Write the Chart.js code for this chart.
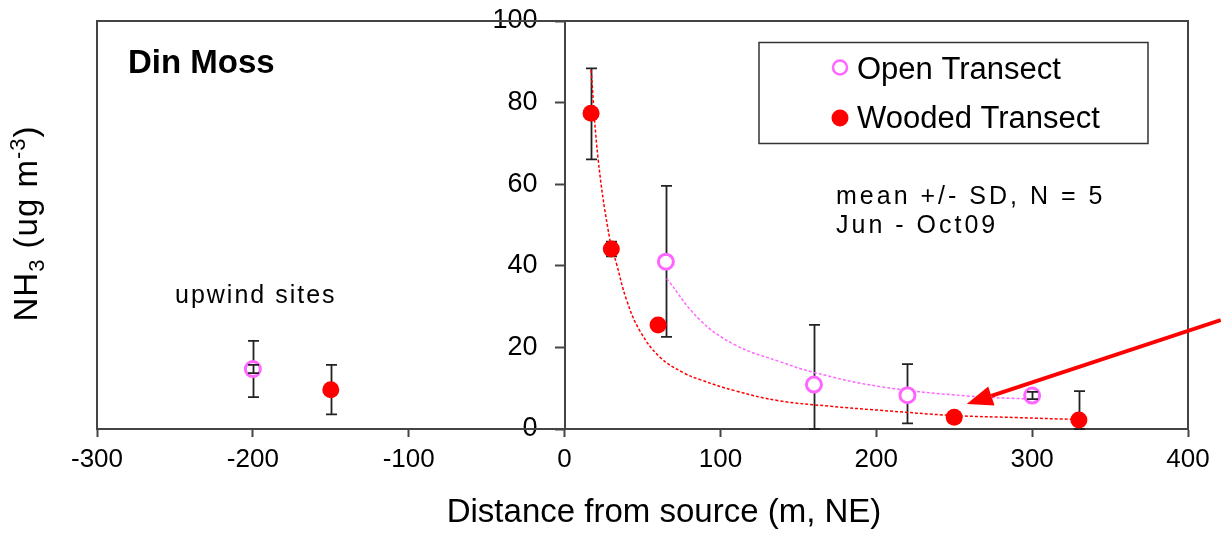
<!DOCTYPE html>
<html><head><meta charset="utf-8">
<script src="https://cdn.jsdelivr.net/npm/chart.js@4.4.1/dist/chart.umd.min.js"></script>
<style>html,body{margin:0;padding:0;background:#fff}#wrap{width:1221px;height:534px;position:relative}</style>
</head><body><div id="wrap"><canvas id="c"></canvas></div>
<script>
// ---- data ----
const xTicks = [-300, -200, -100, 0, 100, 200, 300, 400];
const yTicks = [0, 20, 40, 60, 80, 100];

const openLabel = 'Open Transect';
const openX  = [-200, 65, 160, 220, 300];
const openY  = [14.7, 41.0, 10.9, 8.3, 8.2];
const openLo = [7.8, 22.6, 0, 1.4, null];
const openHi = [21.6, 59.6, 25.5, 15.9, null];
const openInnerLo = [13.7, null, null, null, 7.3];
const openInnerHi = [15.7, null, null, null, 9.1];

const woodLabel = 'Wooded Transect';
const woodX  = [-150, 17, 30, 60, 250, 330];
const woodY  = [9.6, 77.4, 44.1, 25.5, 2.9, 2.2];
const woodLo = [3.6, 66.1, 42.3, null, null, 0];
const woodHi = [15.7, 88.4, 45.9, null, null, 9.3];

const woodFitX = [17, 21.6, 29.1, 33.4, 39.8, 48.4, 61.2, 76.2, 86.9, 110, 138, 170, 202, 250, 290, 331];
const woodFitY = [88, 65.9, 46.3, 40.4, 31.6, 24.0, 17.6, 13.8, 12.1, 9.3, 6.9, 5.6, 4.6, 3.3, 2.8, 2.3];
const openFitX = [65.5, 86.9, 110, 138.2, 159.6, 202.3, 258, 300.7];
const openFitY = [36.9, 26.7, 20.5, 16.5, 13.9, 10.4, 8.1, 7.3];

const arrowFrom = [421, 26.7];
const arrowTo   = [258, 6.1];

const titleText = 'Din Moss';
const upwindText = 'upwind sites';
const noteLines = ['mean +/- SD, N = 5', 'Jun - Oct09'];
const xTitle = 'Distance from source (m, NE)';

// ---- styles ----
const FONT = '"Liberation Sans", Arial, sans-serif';
const RED = '#ff0000';
const PINK = '#ff66ff';
const AXIS = '#444444';
const Y_LABEL_GAP = 27;

// y axis drawn at x = 0 with labels set off to the left of its ticks
class OffsetLinear extends Chart.LinearScale {
  _computeLabelItems(area) {
    const items = super._computeLabelItems(area);
    items.forEach(it => { it.options.translation[0] -= Y_LABEL_GAP; });
    return items;
  }
}
OffsetLinear.id = 'offsetLinear';
OffsetLinear.defaults = Chart.LinearScale.defaults;
Chart.register(OffsetLinear);

const pts = (xs, ys) => xs.map((x, i) => ({x, y: ys[i]}));

function drawText(ctx, s, x, y, size, opts = {}) {
  ctx.save();
  ctx.font = (opts.bold ? 'bold ' : '') + size + 'px ' + FONT;
  ctx.fillStyle = '#000';
  ctx.textAlign = opts.align || 'left';
  ctx.textBaseline = 'alphabetic';
  ctx.letterSpacing = (opts.ls || 0) + 'px';
  ctx.fillText(s, x, y);
  ctx.restore();
}

function errBars(chart, xs, lo, hi, ctx) {
  const sx = chart.scales.x, sy = chart.scales.y;
  ctx.save();
  ctx.strokeStyle = '#222';
  ctx.lineWidth = 1.8;
  xs.forEach((x, i) => {
    if (lo[i] == null || hi[i] == null) return;
    const px = Math.round(sx.getPixelForValue(x)) + 0.5;
    const y1 = sy.getPixelForValue(lo[i]), y2 = sy.getPixelForValue(hi[i]);
    ctx.beginPath();
    ctx.moveTo(px, y1); ctx.lineTo(px, y2);
    ctx.moveTo(px - 5.5, y1); ctx.lineTo(px + 5.5, y1);
    ctx.moveTo(px - 5.5, y2); ctx.lineTo(px + 5.5, y2);
    ctx.stroke();
  });
  ctx.restore();
}

const decor = {
  id: 'decor',
  beforeDatasetsDraw(chart) {
    const ctx = chart.ctx, a = chart.chartArea;
    ctx.save();
    ctx.strokeStyle = AXIS; ctx.lineWidth = 2;
    ctx.strokeRect(a.left, a.top, a.right - a.left, a.bottom - a.top);
    ctx.restore();
    errBars(chart, openX, openLo, openHi, ctx);
    errBars(chart, woodX, woodLo, woodHi, ctx);
  },
  afterDatasetsDraw(chart) {
    const ctx = chart.ctx;
    const sx = chart.scales.x, sy = chart.scales.y;
    errBars(chart, openX, openInnerLo, openInnerHi, ctx);

    // arrow
    const x1 = sx.getPixelForValue(arrowFrom[0]), y1 = sy.getPixelForValue(arrowFrom[1]);
    const x2 = sx.getPixelForValue(arrowTo[0]), y2 = sy.getPixelForValue(arrowTo[1]);
    const ang = Math.atan2(y2 - y1, x2 - x1);
    const hl = 26, hw = 10;
    const bx = x2 - hl * Math.cos(ang), by = y2 - hl * Math.sin(ang);
    ctx.save();
    ctx.strokeStyle = RED; ctx.fillStyle = RED; ctx.lineWidth = 4;
    ctx.beginPath(); ctx.moveTo(x1, y1); ctx.lineTo(bx, by); ctx.stroke();
    ctx.beginPath();
    ctx.moveTo(x2, y2);
    ctx.lineTo(bx + hw * Math.sin(ang), by - hw * Math.cos(ang));
    ctx.lineTo(bx - hw * Math.sin(ang), by + hw * Math.cos(ang));
    ctx.closePath(); ctx.fill();
    ctx.restore();

    // legend box
    ctx.save();
    ctx.strokeStyle = '#333'; ctx.lineWidth = 1.5;
    ctx.strokeRect(759, 42.5, 389, 101);
    ctx.beginPath(); ctx.arc(840, 67.5, 7, 0, Math.PI * 2);
    ctx.fillStyle = '#fff'; ctx.fill();
    ctx.strokeStyle = PINK; ctx.lineWidth = 2.5; ctx.stroke();
    ctx.beginPath(); ctx.arc(840, 118, 8.5, 0, Math.PI * 2);
    ctx.fillStyle = RED; ctx.fill();
    ctx.restore();
    drawText(ctx, openLabel, 857, 79, 31);
    drawText(ctx, woodLabel, 857, 128, 31);

    // annotations
    drawText(ctx, titleText, 128, 73, 33, {bold: true});
    drawText(ctx, upwindText, 175, 303, 25, {ls: 2});
    drawText(ctx, noteLines[0], 836, 204, 25, {ls: 3});
    drawText(ctx, noteLines[1], 836, 233, 25, {ls: 3});
    drawText(ctx, xTitle, 664, 522, 33, {align: 'center'});

    // y-axis title with sub/superscripts
    const parts = [
      {t: 'NH', f: 33, dy: 0}, {t: '3', f: 22, dy: 7},
      {t: ' (ug m', f: 33, dy: 0}, {t: '-3', f: 22, dy: -12}, {t: ')', f: 33, dy: 0}
    ];
    ctx.save();
    ctx.translate(37, 223.5);
    ctx.rotate(-Math.PI / 2);
    ctx.fillStyle = '#000';
    ctx.textBaseline = 'alphabetic';
    ctx.letterSpacing = '1px';
    let total = 0;
    parts.forEach(p => { ctx.font = p.f + 'px ' + FONT; p.w = ctx.measureText(p.t).width; total += p.w; });
    let cx = -total / 2;
    parts.forEach(p => { ctx.font = p.f + 'px ' + FONT; ctx.fillText(p.t, cx, p.dy); cx += p.w; });
    ctx.restore();
  }
};

new Chart(document.getElementById('c'), {
  type: 'scatter',
  data: {
    datasets: [
      {label: woodLabel, data: pts(woodX, woodY), order: 0,
       pointRadius: 8.5, pointBackgroundColor: RED, pointBorderColor: RED, pointBorderWidth: 0, showLine: false},
      {label: openLabel, data: pts(openX, openY), order: 0,
       pointRadius: 7.5, pointBackgroundColor: '#ffffff', pointBorderColor: PINK, pointBorderWidth: 3, showLine: false},
      {type: 'line', label: 'wood fit', data: pts(woodFitX, woodFitY), order: 2,
       borderColor: RED, borderWidth: 1.5, borderDash: [3, 2], pointRadius: 0, fill: false,
       tension: 0.4},
      {type: 'line', label: 'open fit', data: pts(openFitX, openFitY), order: 2,
       borderColor: PINK, borderWidth: 1.5, borderDash: [3, 2], pointRadius: 0, fill: false,
       tension: 0.4}
    ]
  },
  options: {
    responsive: true, maintainAspectRatio: false, animation: false,
    layout: {padding: {left: 97, right: 33, top: 21, bottom: 0}},
    plugins: {legend: {display: false}, tooltip: {enabled: false}},
    scales: {
      x: {
        type: 'linear', min: -300, max: 400, position: 'bottom',
        afterBuildTicks: s => { s.ticks = xTicks.map(v => ({value: v})); },
        afterFit: s => { s.height = 105; s.paddingLeft = 0; s.paddingRight = 0; },
        grid: {drawOnChartArea: false, tickLength: 8, tickColor: AXIS, tickWidth: 2},
        border: {color: AXIS, width: 2},
        ticks: {padding: 7, color: '#000', font: {family: FONT, size: 26}, maxRotation: 0, autoSkip: false}
      },
      y: {
        type: 'offsetLinear', min: 0, max: 100, position: {x: 0},
        afterBuildTicks: s => { s.ticks = yTicks.map(v => ({value: v})); },
        afterFit: s => { s.width = 0; s.paddingTop = 0; s.paddingBottom = 0; },
        grid: {drawOnChartArea: false, tickLength: 9, tickColor: AXIS, tickWidth: 2},
        border: {color: AXIS, width: 2},
        ticks: {padding: 0, color: '#000', font: {family: FONT, size: 27}, autoSkip: false}
      }
    }
  },
  plugins: [decor]
});
</script>
</body></html>
